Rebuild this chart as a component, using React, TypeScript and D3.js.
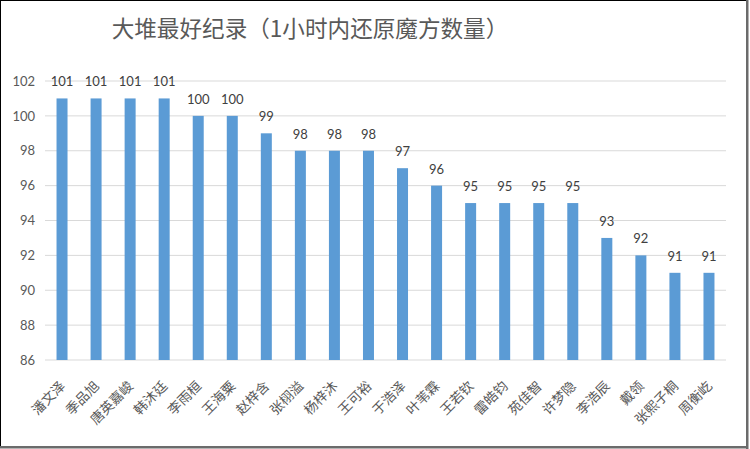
import React from "react";
import * as d3 from "d3";

const title = "大堆最好纪录（1小时内还原魔方数量）";
const names = [
  "潘文泽", "季品旭", "唐英嘉峻", "韩沐廷", "李雨桓", "王海粟", "赵梓含", "张栩溢", "杨梓沐", "王可裕",
  "于浩泽", "叶苇霖", "王若钦", "雷皓钧", "苑佳智", "许梦隐", "李浩辰", "戴领", "张熙子桐", "周衡屹",
];
const values = [101, 101, 101, 101, 100, 100, 99, 98, 98, 98, 97, 96, 95, 95, 95, 95, 93, 92, 91, 91];
const yTicks = [86, 88, 90, 92, 94, 96, 98, 100, 102];

const W = 750;
const H = 449;
const plotLeft = 45;
const plotRight = 726;
const plotTop = 81;
const plotBottom = 360;

export default function App() {
  const x = d3
    .scaleBand<string>()
    .domain(names)
    .range([plotLeft, plotRight])
    .paddingInner(0.677)
    .paddingOuter(0.3385);
  const y = d3.scaleLinear().domain([86, 102]).range([plotBottom, plotTop]);

  const numFont = "Lato, 'Open Sans', sans-serif";
  const cjkFont = "'Noto Sans CJK SC', sans-serif";

  return (
    <svg
      width={W}
      height={H}
      style={{ position: "absolute", left: 0, top: 0, background: "#fff" }}
    >
      <rect x={0} y={0} width={W} height={H} fill="#fff" />
      {/* frame */}
      <line x1={0} y1={0.5} x2={748} y2={0.5} stroke="#000" strokeWidth={1} />
      <line x1={0.5} y1={0} x2={0.5} y2={447} stroke="#000" strokeWidth={1} />
      <rect x={746} y={0} width={2.5} height={449} fill="#6b6b6b" />
      <rect x={0} y={446} width={748} height={2.5} fill="#6b6b6b" />

      <text
        x={310}
        y={37}
        textAnchor="middle"
        fontFamily={cjkFont}
        fontSize={22.6}
        fill="#595959"
      >
        {title}
      </text>

      {yTicks.map((t) => (
        <g key={t}>
          <line
            x1={plotLeft}
            x2={plotRight}
            y1={y(t)}
            y2={y(t)}
            stroke="#d9d9d9"
            strokeWidth={1}
          />
          <text
            x={35}
            y={y(t)}
            dy="0.36em"
            textAnchor="end"
            fontFamily={numFont}
            fontSize={13}
            fill="#595959"
          >
            {t}
          </text>
        </g>
      ))}

      {names.map((n, i) => {
        const bx = x(n) as number;
        const bw = x.bandwidth();
        const top = y(values[i]);
        const cx = bx + bw / 2;
        return (
          <g key={n}>
            <rect x={bx} y={top} width={bw} height={plotBottom - top} fill="#5b9bd5" />
            <text
              x={cx}
              y={top - 12}
              textAnchor="middle"
              fontFamily={numFont}
              fontSize={13}
              fill="#404040"
            >
              {values[i]}
            </text>
            <text
              transform={`translate(${cx + 4},${plotBottom + 27}) rotate(-45)`}
              textAnchor="end"
              fontFamily={cjkFont}
              fontSize={13.5}
              fill="#595959"
            >
              {n}
            </text>
          </g>
        );
      })}
    </svg>
  );
}
